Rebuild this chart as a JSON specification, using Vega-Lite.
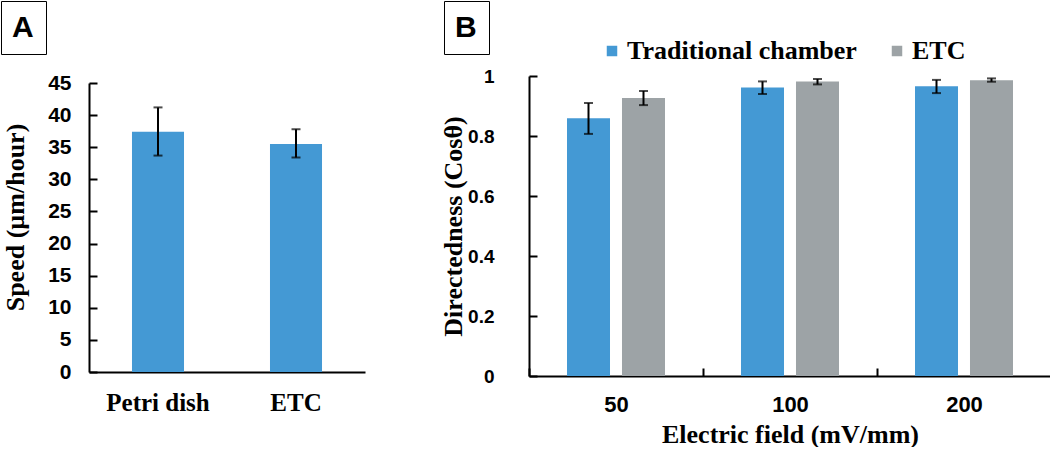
{
  "$schema": "https://vega.github.io/schema/vega-lite/v6.json",
  "padding": {"left": 0, "top": 0, "right": 0, "bottom": 0},
  "background": "white",
  "config": {
    "view": {"stroke": null},
    "axis": {
      "domainColor": "black",
      "domainWidth": 2,
      "tickColor": "black",
      "tickWidth": 2,
      "grid": false,
      "labelColor": "black",
      "titleColor": "black",
      "titleFont": "Liberation Serif",
      "titleFontWeight": "bold",
      "titleFontSize": 26,
      "labelFont": "Liberation Sans",
      "labelFontWeight": "bold",
      "labelOverlap": false
    }
  },
  "datasets": {
    "speed": [
      {"surface": "Petri dish", "speed": 37.4, "lo": 33.7, "hi": 41.2},
      {"surface": "ETC", "speed": 35.5, "lo": 33.4, "hi": 37.8}
    ],
    "dir": [
      {"field": "50", "chamber": "Traditional chamber", "d": 0.859, "lo": 0.807, "hi": 0.910},
      {"field": "50", "chamber": "ETC", "d": 0.927, "lo": 0.903, "hi": 0.950},
      {"field": "100", "chamber": "Traditional chamber", "d": 0.962, "lo": 0.940, "hi": 0.982},
      {"field": "100", "chamber": "ETC", "d": 0.982, "lo": 0.972, "hi": 0.990},
      {"field": "200", "chamber": "Traditional chamber", "d": 0.966, "lo": 0.943, "hi": 0.987},
      {"field": "200", "chamber": "ETC", "d": 0.986, "lo": 0.981, "hi": 0.992}
    ]
  },
  "columns": 2,
  "align": "none",
  "spacing": 75,
  "resolve": {
    "scale": {"color": "independent", "shape": "independent"},
    "legend": {"color": "independent", "shape": "independent"}
  },
  "concat": [
    {
      "width": 276,
      "height": 289,
      "data": {"name": "speed"},
      "encoding": {
        "x": {
          "field": "surface", "type": "nominal", "sort": ["Petri dish", "ETC"],
          "scale": {"paddingInner": 0.623, "paddingOuter": 0.3115},
          "axis": {
            "title": null, "labelAngle": 0, "ticks": false, "labelPadding": 18,
            "labelFont": "Liberation Serif", "labelFontSize": 25, "labelFontWeight": "bold"
          }
        },
        "y": {
          "field": "speed", "type": "quantitative", "title": "Speed (µm/hour)",
          "scale": {"domain": [0, 45], "nice": false},
          "axis": {
            "values": [0, 5, 10, 15, 20, 25, 30, 35, 40, 45], "labelOverlap": false,
            "tickSize": -8, "labelPadding": 26, "labelFontSize": 21,
            "titlePadding": 19, "titleY": 134
          }
        }
      },
      "layer": [
        {"mark": {"type": "bar", "color": "#4499D4"}},
        {
          "mark": {"type": "rule", "color": "black", "strokeWidth": 2},
          "encoding": {"y": {"field": "lo", "type": "quantitative"}, "y2": {"field": "hi"}}
        },
        {
          "mark": {"type": "tick", "color": "black", "thickness": 2, "size": 9},
          "encoding": {"y": {"field": "lo", "type": "quantitative"}}
        },
        {
          "mark": {"type": "tick", "color": "black", "thickness": 2, "size": 9},
          "encoding": {"y": {"field": "hi", "type": "quantitative"}}
        },
        {
          "mark": {"type": "point", "opacity": 0},
          "encoding": {
            "shape": {
              "datum": "A",
              "legend": {
                "orient": "none", "legendX": -88, "legendY": -82,
                "title": "\u2009A\u2009", "titleOrient": "left", "titlePadding": 0, "titleBaseline": "top",
                "titleFont": "Liberation Sans", "titleFontWeight": "bold", "titleFontSize": 30, "titleColor": "black",
                "padding": 11, "strokeColor": "black",
                "symbolOpacity": 0, "symbolSize": 1, "symbolStrokeWidth": 0, "labelOffset": 0,
                "labelExpr": "''", "labelFontSize": 1,
                "encode": {"legend": {"update": {"strokeWidth": {"value": 2.5}, "stroke": {"value": "black"}}}}
              }
            }
          }
        }
      ]
    },
    {
      "width": 522,
      "height": 293,
      "data": {"name": "dir"},
      "encoding": {
        "x": {
          "field": "field", "type": "nominal", "sort": ["50", "100", "200"],
          "scale": {"paddingInner": 0, "paddingOuter": 0},
          "axis": {
            "title": "Electric field (mV/mm)", "labelAngle": 0, "tickBand": "extent",
            "tickSize": -8, "labelPadding": 26, "labelFontSize": 22, "titlePadding": 6
          }
        },
        "xOffset": {
          "field": "chamber", "type": "nominal", "sort": ["Traditional chamber", "ETC"],
          "scale": {"paddingInner": 0.218, "paddingOuter": 0.691}
        },
        "y": {
          "field": "d", "type": "quantitative", "title": "Directedness (Cosθ)",
          "scale": {"domain": [0, 1], "nice": false, "range": [293, -7]},
          "axis": {
            "values": [0, 0.2, 0.4, 0.6, 0.8, 1], "format": "~g", "labelOverlap": false,
            "tickSize": -8, "labelPadding": 43, "labelFontSize": 19, "titlePadding": 1
          }
        }
      },
      "layer": [
        {
          "mark": {"type": "bar"},
          "encoding": {
            "color": {
              "field": "chamber", "type": "nominal",
              "scale": {"domain": ["Traditional chamber", "ETC"], "range": ["#4499D4", "#9DA3A6"]},
              "legend": {
                "orient": "none", "legendX": 70, "legendY": -45, "direction": "horizontal", "title": null,
                "symbolType": "square", "symbolSize": 110, "symbolStrokeWidth": 0,
                "labelFont": "Liberation Serif", "labelFontWeight": "bold", "labelFontSize": 26,
                "labelColor": "black", "labelOffset": 2, "columnPadding": 27, "labelLimit": 400, "padding": 0
              }
            }
          }
        },
        {
          "mark": {"type": "rule", "color": "black", "strokeWidth": 2},
          "encoding": {"y": {"field": "lo", "type": "quantitative"}, "y2": {"field": "hi"}}
        },
        {
          "mark": {"type": "tick", "color": "black", "thickness": 2, "size": 9},
          "encoding": {"y": {"field": "lo", "type": "quantitative"}}
        },
        {
          "mark": {"type": "tick", "color": "black", "thickness": 2, "size": 9},
          "encoding": {"y": {"field": "hi", "type": "quantitative"}}
        },
        {
          "mark": {"type": "point", "opacity": 0},
          "encoding": {
            "shape": {
              "datum": "B",
              "legend": {
                "orient": "none", "legendX": -85, "legendY": -82,
                "title": "\u2009B\u2009", "titleOrient": "left", "titlePadding": 0, "titleBaseline": "top",
                "titleFont": "Liberation Sans", "titleFontWeight": "bold", "titleFontSize": 30, "titleColor": "black",
                "padding": 11, "strokeColor": "black",
                "symbolOpacity": 0, "symbolSize": 1, "symbolStrokeWidth": 0, "labelOffset": 0,
                "labelExpr": "''", "labelFontSize": 1,
                "encode": {"legend": {"update": {"strokeWidth": {"value": 2.5}, "stroke": {"value": "black"}}}}
              }
            }
          }
        }
      ]
    }
  ]
}
